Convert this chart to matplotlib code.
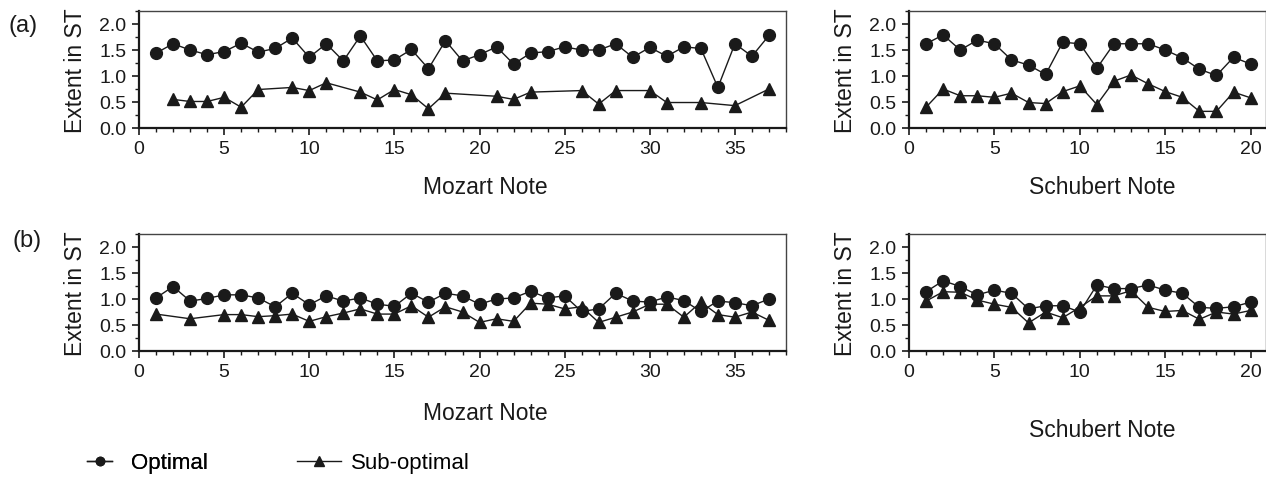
import matplotlib.pyplot as plt
from matplotlib.lines import Line2D
from matplotlib.ticker import MultipleLocator
import numpy as np

plt.rcParams['font.family'] = ['Liberation Sans', 'DejaVu Sans']

# (a) Mozart
mozart_notes = np.arange(1, 38)
mozart_opt_a = [1.44, 1.62, 1.50, 1.41, 1.47, 1.63, 1.46, 1.53, 1.73, 1.36,
                1.62, 1.29, 1.77, 1.29, 1.31, 1.51, 1.14, 1.68, 1.29, 1.41,
                1.56, 1.23, 1.44, 1.47, 1.56, 1.50, 1.50, 1.62, 1.36, 1.55,
                1.38, 1.56, 1.53, 0.78, 1.62, 1.38, 1.78]
mozart_sub_a_notes = [2, 3, 4, 5, 6, 7, 9, 10, 11, 13, 14, 15, 16, 17, 18,
                      21, 22, 23, 26, 27, 28, 30, 31, 33, 35, 37]
mozart_sub_a = [0.55, 0.51, 0.51, 0.59, 0.40, 0.74, 0.78, 0.72, 0.87, 0.69,
                0.54, 0.74, 0.64, 0.37, 0.67, 0.61, 0.55, 0.69, 0.72, 0.46,
                0.72, 0.72, 0.49, 0.49, 0.43, 0.75]

# (a) Schubert
schubert_notes = np.arange(1, 21)
schubert_opt_a = [1.62, 1.79, 1.50, 1.69, 1.62, 1.31, 1.21, 1.03, 1.65, 1.62,
                  1.15, 1.62, 1.62, 1.62, 1.50, 1.35, 1.13, 1.01, 1.36, 1.23]
schubert_sub_a = [0.40, 0.75, 0.62, 0.62, 0.59, 0.67, 0.49, 0.47, 0.70, 0.81,
                  0.45, 0.90, 1.02, 0.85, 0.70, 0.59, 0.32, 0.32, 0.69, 0.58]

# (b) Mozart
mozart_opt_b = [1.02, 1.24, 0.96, 1.01, 1.08, 1.08, 1.02, 0.85, 1.11, 0.89,
                1.06, 0.96, 1.02, 0.90, 0.86, 1.11, 0.94, 1.11, 1.06, 0.90,
                1.00, 1.02, 1.15, 1.02, 1.06, 0.76, 0.81, 1.11, 0.96, 0.94,
                1.04, 0.97, 0.76, 0.96, 0.93, 0.87, 1.00]
mozart_sub_b_notes = [1, 3] + list(range(5, 38))
mozart_sub_b = [0.71, 0.62, 0.70, 0.70, 0.66, 0.68, 0.71, 0.57, 0.66, 0.73,
                0.81, 0.71, 0.71, 0.87, 0.65, 0.85, 0.75, 0.55, 0.62, 0.57,
                0.92, 0.90, 0.81, 0.85, 0.55, 0.65, 0.75, 0.90, 0.90, 0.65,
                0.94, 0.70, 0.65, 0.75, 0.59]

# (b) Schubert
schubert_opt_b = [1.14, 1.35, 1.24, 1.08, 1.17, 1.11, 0.81, 0.87, 0.87, 0.75,
                  1.27, 1.20, 1.20, 1.27, 1.17, 1.11, 0.84, 0.82, 0.85, 0.94]
schubert_sub_b = [0.96, 1.14, 1.13, 0.98, 0.90, 0.84, 0.54, 0.75, 0.64, 0.84,
                  1.06, 1.06, 1.16, 0.84, 0.76, 0.78, 0.61, 0.75, 0.71, 0.78]

W, H = 1266, 485
INK = '#1a1a1a'
fig = plt.figure(figsize=(W / 100, H / 100), dpi=100)


def make_ax(x0, x1, y_top, y_bot):
    return fig.add_axes([x0 / W, 1 - y_bot / H, (x1 - x0) / W, (y_bot - y_top) / H])


def style(ax, xmax, xlabel, label_xy):
    ax.set_xlim(0, xmax)
    ax.set_ylim(0, 2.25)
    ax.xaxis.set_major_locator(MultipleLocator(5))
    ax.xaxis.set_minor_locator(MultipleLocator(1))
    ax.yaxis.set_major_locator(MultipleLocator(0.5))
    ax.yaxis.set_minor_locator(MultipleLocator(0.25))
    ax.yaxis.set_major_formatter(plt.FormatStrFormatter('%.1f'))
    ax.tick_params(which='major', direction='out', length=5, width=1.2,
                   labelsize=14, colors=INK, pad=4)
    ax.tick_params(which='minor', direction='out', length=3, width=1.0, colors=INK)
    for side in ['left', 'bottom']:
        ax.spines[side].set_linewidth(1.6)
        ax.spines[side].set_color(INK)
    for side in ['top', 'right']:
        ax.spines[side].set_linewidth(1.0)
        ax.spines[side].set_color('#444444')
    ax.set_xlabel(xlabel, fontsize=16.5, color=INK)
    ax.xaxis.set_label_coords(*label_xy)
    ax.set_ylabel('Extent in ST', fontsize=16.5, labelpad=9, color=INK)


def draw(ax, xo, yo, xs, ys):
    ax.plot(xo, yo, '-o', color=INK, lw=1.0, ms=8.5, clip_on=False)
    ax.plot(xs, ys, '-^', color=INK, lw=1.0, ms=8, clip_on=False)


ax1 = make_ax(139, 786, 12, 129)
draw(ax1, mozart_notes, mozart_opt_a, mozart_sub_a_notes, mozart_sub_a)
style(ax1, 38, 'Mozart Note', (0.535, -0.40))

ax2 = make_ax(909, 1266, 12, 129)
draw(ax2, schubert_notes, schubert_opt_a, schubert_notes, schubert_sub_a)
style(ax2, 20.9, 'Schubert Note', (0.54, -0.40))

ax3 = make_ax(139, 786, 235, 352)
draw(ax3, mozart_notes, mozart_opt_b, mozart_sub_b_notes, mozart_sub_b)
style(ax3, 38, 'Mozart Note', (0.535, -0.43))

ax4 = make_ax(909, 1266, 235, 352)
draw(ax4, schubert_notes, schubert_opt_b, schubert_notes, schubert_sub_b)
style(ax4, 20.9, 'Schubert Note', (0.54, -0.57))

fig.text(8 / W, 1 - 26 / H, '(a)', fontsize=17, va='center', ha='left', color=INK)
fig.text(12 / W, 1 - 241 / H, '(b)', fontsize=17, va='center', ha='left', color=INK)

opt_handle = Line2D([], [], color=INK, marker='o', lw=1.0, ms=6)
sub_handle = Line2D([], [], color=INK, marker='^', lw=1.0, ms=7)
leg1 = fig.legend([opt_handle], ['Optimal'], loc='center left',
                  bbox_to_anchor=(87 / W, 1 - 464 / H), frameon=False,
                  fontsize=16, handlelength=1.13, handletextpad=0.85,
                  borderpad=0, borderaxespad=0)
leg2 = fig.legend([sub_handle], ['Sub-optimal'], loc='center left',
                  bbox_to_anchor=(297 / W, 1 - 464 / H), frameon=False,
                  fontsize=16, handlelength=2.0, handletextpad=0.45,
                  borderpad=0, borderaxespad=0)
fig.add_artist(leg1)

fig.savefig('out.png', dpi=100)
